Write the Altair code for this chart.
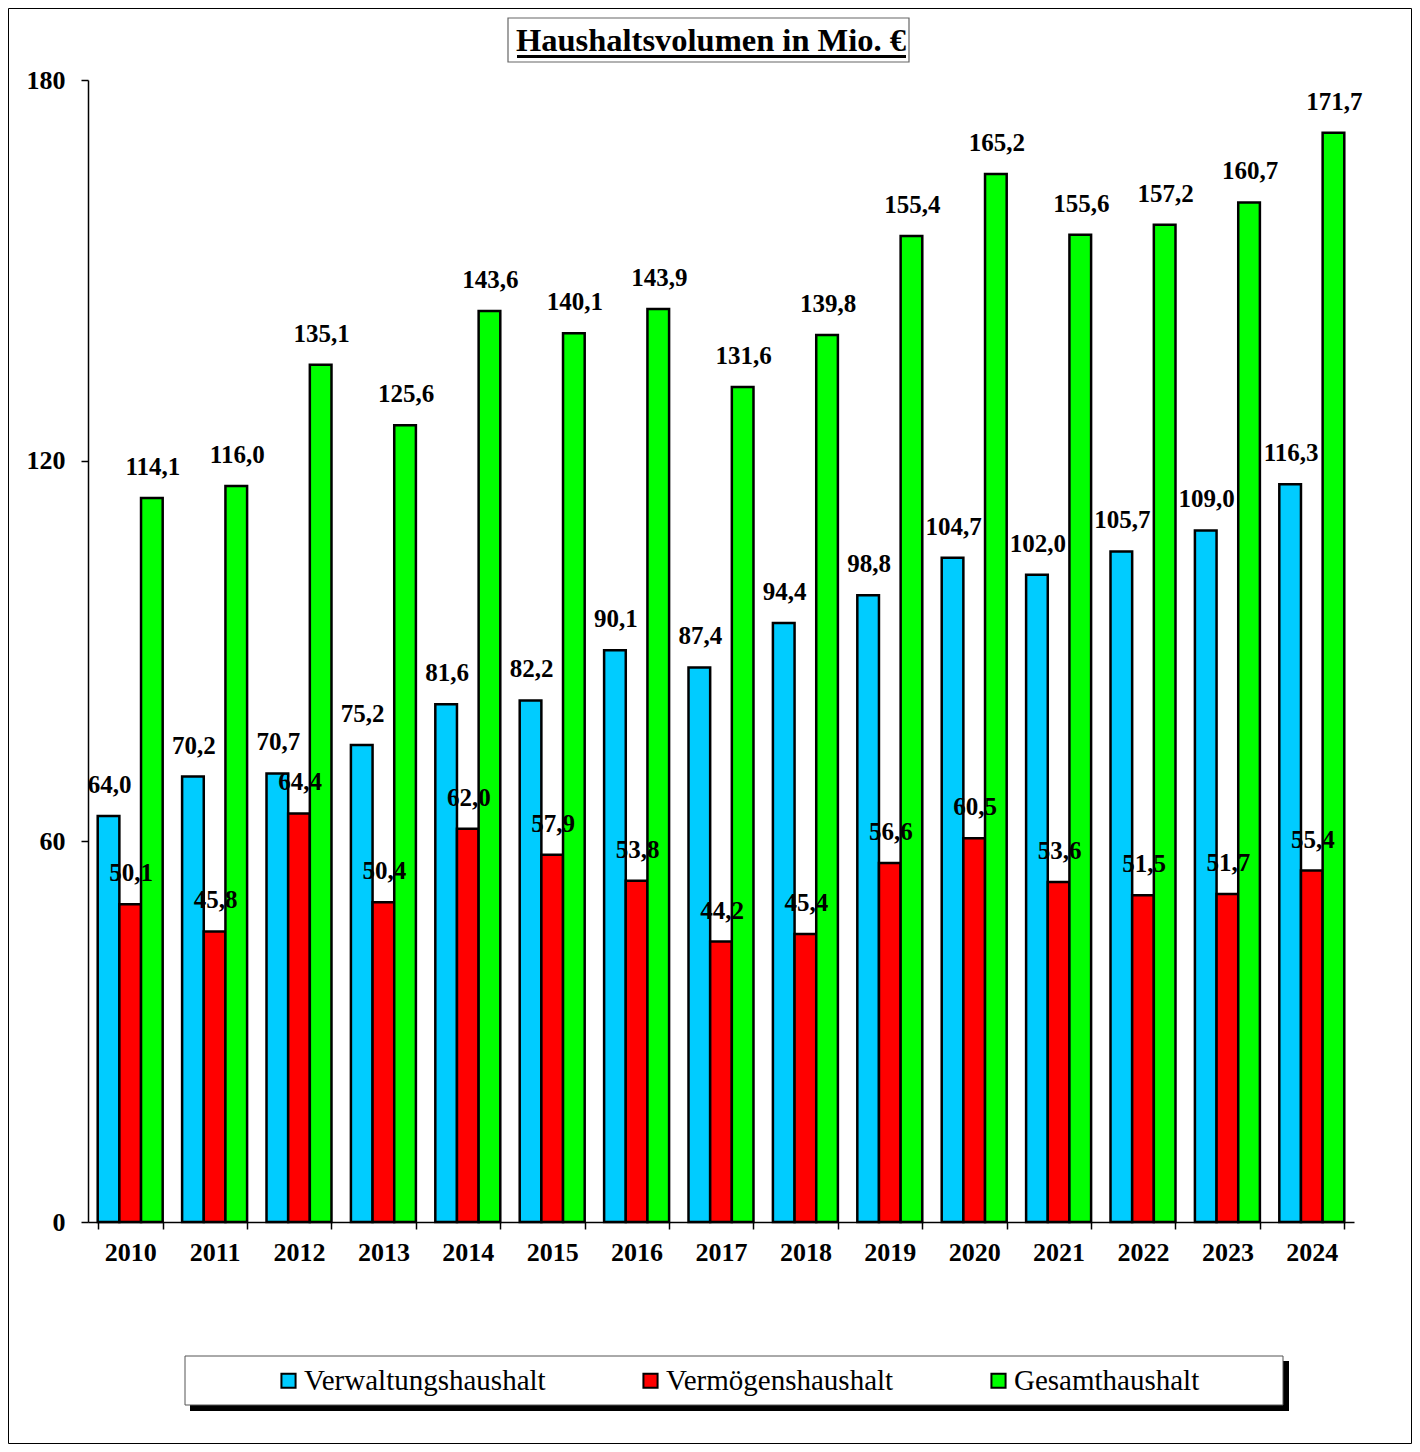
import altair as alt
import pandas as pd

years = ["2010", "2011", "2012", "2013", "2014", "2015", "2016", "2017",
         "2018", "2019", "2020", "2021", "2022", "2023", "2024"]
verwaltung = [64.0, 70.2, 70.7, 75.2, 81.6, 82.2, 90.1, 87.4, 94.4, 98.8,
              104.7, 102.0, 105.7, 109.0, 116.3]
vermoegen = [50.1, 45.8, 64.4, 50.4, 62.0, 57.9, 53.8, 44.2, 45.4, 56.6,
             60.5, 53.6, 51.5, 51.7, 55.4]
gesamt = [114.1, 116.0, 135.1, 125.6, 143.6, 140.1, 143.9, 131.6, 139.8,
          155.4, 165.2, 155.6, 157.2, 160.7, 171.7]
series = ["Verwaltungshaushalt", "Vermögenshaushalt", "Gesamthaushalt"]
colors = ["#00CCFF", "#FF0000", "#00FF00"]
y_ticks = [0, 60, 120, 180]
title_text = "Haushaltsvolumen in Mio. €"

rows = []
for name, vals in zip(series, [verwaltung, vermoegen, gesamt]):
    for yr, v in zip(years, vals):
        rows.append({"Jahr": yr, "Reihe": name, "Wert": v,
                     "Label": f"{v:.1f}".replace(".", ",")})
df = pd.DataFrame(rows)

FONT = "Liberation Serif"
W, H = 1266, 1142

x_enc = alt.X("Jahr:N", sort=years, title=None,
              scale=alt.Scale(paddingInner=0.23, paddingOuter=0.115),
              axis=alt.Axis(labelAngle=0, tickBand="extent", tickSize=7,
                            labelPadding=10, labelFontSize=26,
                            labelFont=FONT, labelFontWeight="bold",
                            labelColor="black", domainColor="black",
                            tickColor="black", domainWidth=1.5, tickWidth=1.5,
                            zindex=1))
xoff = alt.XOffset("Reihe:N", sort=series,
                   scale=alt.Scale(domain=series, paddingInner=0, paddingOuter=0))
y_enc = alt.Y("Wert:Q", title=None,
              scale=alt.Scale(domain=[0, 180], nice=False),
              axis=alt.Axis(values=y_ticks, grid=False, tickSize=7,
                            labelPadding=16, labelFontSize=26,
                            labelFont=FONT, labelFontWeight="bold",
                            labelColor="black", domainColor="black",
                            tickColor="black", domainWidth=1.5, tickWidth=1.5,
                            zindex=1))

base = alt.Chart(df)

bars = base.mark_bar(stroke="black", strokeWidth=2.5).encode(
    x=x_enc, xOffset=xoff, y=y_enc,
    color=alt.Color("Reihe:N", sort=series,
                    scale=alt.Scale(domain=series, range=colors),
                    legend=alt.Legend(orient="none", legendX=186, legendY=1286,
                                      direction="horizontal", columns=3,
                                      title=None, symbolType="square",
                                      symbolSize=200, symbolStrokeColor="black",
                                      symbolStrokeWidth=2, symbolOpacity=1,
                                      labelFont=FONT, labelFontSize=29,
                                      labelColor="black", labelOffset=1,
                                      labelLimit=500, columnPadding=90,
                                      padding=0, zindex=2)),
)

labels = base.mark_text(font=FONT, fontSize=25, fontWeight="bold",
                        color="black", baseline="alphabetic", dy=-23, dx=1).encode(
    x=alt.X("Jahr:N", sort=years), xOffset=alt.XOffset("Reihe:N", sort=series),
    y="Wert:Q", text="Label:N")

one = pd.DataFrame({"a": [0]})
deco = alt.Chart(one)

outer = deco.mark_rect(fillOpacity=0, stroke="black", strokeWidth=1).encode(
    x=alt.value(-79.5), x2=alt.value(1323.5), y=alt.value(-71.5), y2=alt.value(1363.5))
title_box = deco.mark_rect(fill="white", stroke="#666666", strokeWidth=1.2).encode(
    x=alt.value(420), x2=alt.value(821), y=alt.value(-62), y2=alt.value(-18))
title = deco.mark_text(text=title_text, font=FONT, fontSize=32.5, fontWeight="bold",
                       color="black", baseline="alphabetic", align="center").encode(
    x=alt.value(623), y=alt.value(-29))
underline = deco.mark_rect(fill="black").encode(
    x=alt.value(429), x2=alt.value(818), y=alt.value(-25), y2=alt.value(-22))
leg_shadow = deco.mark_rect(fill="black").encode(
    x=alt.value(102), x2=alt.value(1201), y=alt.value(1281), y2=alt.value(1331))
leg_box = deco.mark_rect(fill="white", stroke="#555555", strokeWidth=1).encode(
    x=alt.value(97), x2=alt.value(1195), y=alt.value(1276), y2=alt.value(1325))

chart = alt.layer(outer, title_box, title, underline, leg_shadow, leg_box,
                  bars, labels).properties(
    width=W, height=H,
    autosize=alt.AutoSizeParams(type="none"),
    padding={"left": 80, "top": 72, "right": 58, "bottom": 222},
    background="white",
).configure_view(stroke=None)

chart.save("out.html", embed_options={"renderer": "svg", "actions": False})
